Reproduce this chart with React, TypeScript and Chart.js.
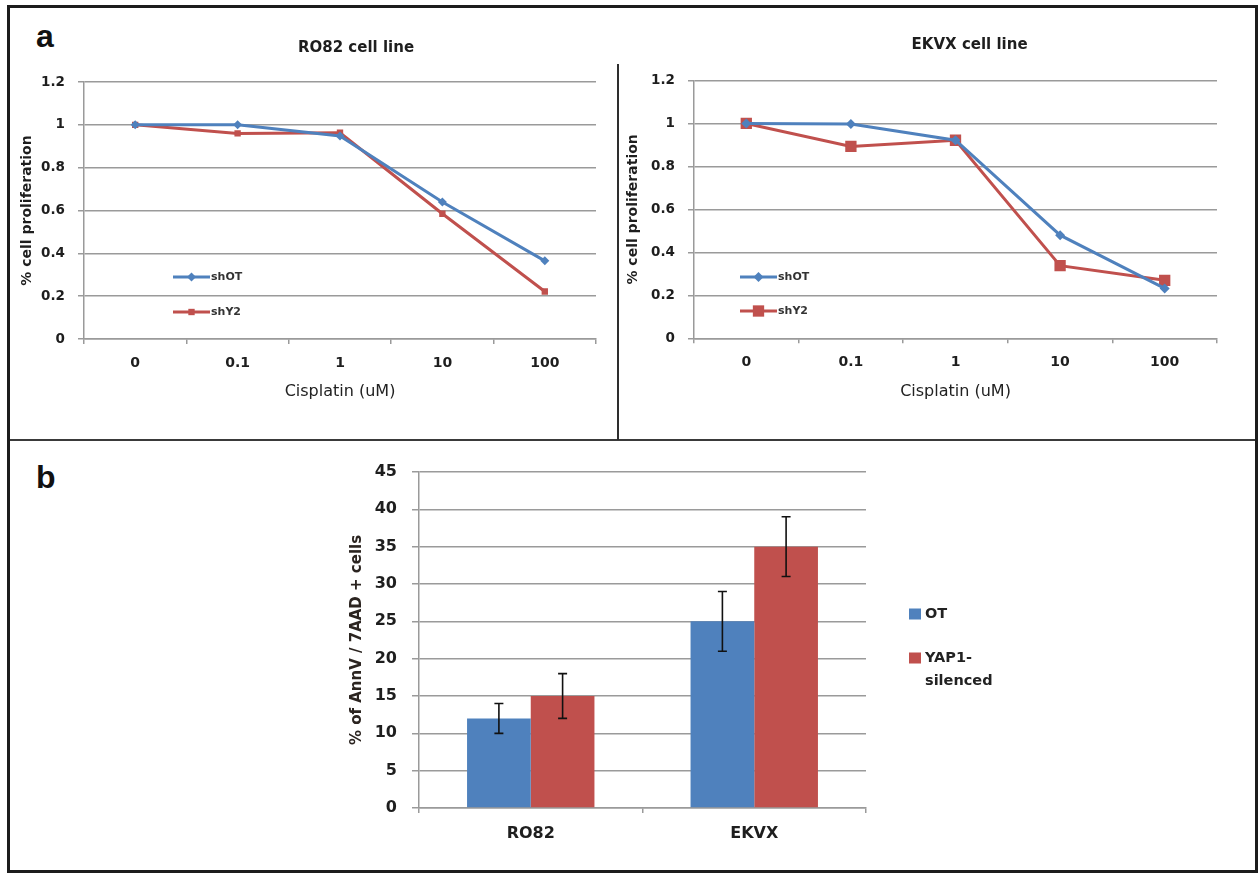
import React, { useEffect, useRef } from 'react';
import { Chart, registerables } from 'chart.js';

Chart.register(...registerables);

// ---------- data ----------
const doses = ['0', '0.1', '1', '10', '100'];
const ro82ShOT = [1.0, 1.0, 0.948, 0.64, 0.365];
const ro82ShY2 = [1.0, 0.96, 0.963, 0.585, 0.222];
const ekvxShOT = [1.0, 0.997, 0.922, 0.48, 0.232];
const ekvxShY2 = [1.0, 0.893, 0.922, 0.338, 0.27];
const proliferationMax = 1.2;
const proliferationStep = 0.2;

const cellLines = ['RO82', 'EKVX'];
const otValues = [12, 25];
const otErrors = [2, 4];
const yapValues = [15, 35];
const yapErrors = [3, 4];
const apoptosisMax = 45;
const apoptosisStep = 5;

const BLUE = '#4F81BD';
const RED = '#C0504D';
const GRID = '#9a9a9a';
const TEXT = '#1e1e1e';
const FONT = '"DejaVu Sans", Verdana, sans-serif';

// ---------- plugins ----------
const placedTitle = {
  id: 'placedTitle',
  afterDraw(chart: any, _a: any, opts: any) {
    if (!opts || !opts.text) return;
    const ctx = chart.ctx;
    ctx.save();
    ctx.fillStyle = TEXT;
    ctx.font = `bold ${opts.fontSize}px ${FONT}`;
    ctx.textAlign = 'center';
    ctx.textBaseline = 'middle';
    ctx.fillText(opts.text, opts.x, opts.y);
    ctx.restore();
  },
};

const lineLegend = {
  id: 'lineLegend',
  afterDraw(chart: any, _a: any, opts: any) {
    if (!opts || opts.x === undefined) return;
    const ctx = chart.ctx;
    chart.data.datasets.forEach((ds: any, i: number) => {
      const y = opts.y[i];
      ctx.save();
      ctx.strokeStyle = ds.borderColor;
      ctx.lineWidth = ds.borderWidth;
      ctx.beginPath();
      ctx.moveTo(opts.x, y);
      ctx.lineTo(opts.x + opts.len, y);
      ctx.stroke();
      const cx = opts.x + opts.len / 2;
      const r = ds.pointRadius;
      ctx.fillStyle = ds.pointBackgroundColor;
      ctx.beginPath();
      if (ds.pointStyle === 'rectRot') {
        ctx.moveTo(cx, y - r);
        ctx.lineTo(cx + r, y);
        ctx.lineTo(cx, y + r);
        ctx.lineTo(cx - r, y);
        ctx.closePath();
      } else {
        const s = r * Math.SQRT1_2;
        ctx.rect(cx - s, y - s, 2 * s, 2 * s);
      }
      ctx.fill();
      ctx.fillStyle = '#333';
      ctx.font = `bold ${opts.fontSize}px ${FONT}`;
      ctx.textBaseline = 'middle';
      ctx.textAlign = 'left';
      ctx.fillText(ds.label, opts.x + opts.len + 1, y);
      ctx.restore();
    });
  },
};

const errorBars = {
  id: 'errorBars',
  afterDatasetsDraw(chart: any) {
    const ctx = chart.ctx;
    const yScale = chart.scales.y;
    chart.data.datasets.forEach((ds: any, i: number) => {
      if (!ds.errors) return;
      const meta = chart.getDatasetMeta(i);
      meta.data.forEach((bar: any, j: number) => {
        const v = ds.data[j];
        const e = ds.errors[j];
        const top = yScale.getPixelForValue(v + e);
        const bot = yScale.getPixelForValue(v - e);
        const x = bar.x;
        ctx.save();
        ctx.strokeStyle = '#111';
        ctx.lineWidth = 1.6;
        ctx.beginPath();
        ctx.moveTo(x, top);
        ctx.lineTo(x, bot);
        ctx.moveTo(x - 4.5, top);
        ctx.lineTo(x + 4.5, top);
        ctx.moveTo(x - 4.5, bot);
        ctx.lineTo(x + 4.5, bot);
        ctx.stroke();
        ctx.restore();
      });
    });
  },
};

const barLegend = {
  id: 'barLegend',
  afterDraw(chart: any, _a: any, opts: any) {
    if (!opts || opts.x === undefined) return;
    const ctx = chart.ctx;
    chart.data.datasets.forEach((ds: any, i: number) => {
      const y = opts.y[i];
      ctx.save();
      ctx.fillStyle = ds.backgroundColor;
      ctx.fillRect(opts.x, y - 5.5, 12, 11);
      ctx.fillStyle = '#222';
      ctx.font = `bold ${opts.fontSize}px ${FONT}`;
      ctx.textBaseline = 'middle';
      ctx.textAlign = 'left';
      const label: string = ds.label;
      const k = label.indexOf('-');
      const lines = k >= 0 ? [label.slice(0, k + 1), label.slice(k + 1)] : [label];
      lines.forEach((ln, li) => ctx.fillText(ln, opts.x + 16, y + li * opts.lineGap));
      ctx.restore();
    });
  },
};

// ---------- configs ----------
type LineLayout = {
  padRight: number;
  padTop: number;
  titleX: number;
  titleY: number;
  yWidth: number;
  yTitlePad: number;
  xHeight: number;
  xTitlePadBottom: number;
  xTickPad: number;
  legendX: number;
  legendY: number[];
  legendLen: number;
  otRadius: number;
  y2Radius: number;
};

function lineConfig(title: string, shot: number[], shy2: number[], L: LineLayout): any {
  return {
    type: 'line',
    data: {
      labels: doses,
      datasets: [
        {
          label: 'shOT',
          data: shot,
          borderColor: BLUE,
          backgroundColor: BLUE,
          pointBackgroundColor: BLUE,
          pointBorderColor: BLUE,
          borderWidth: 3,
          pointStyle: 'rectRot',
          pointRadius: L.otRadius,
          pointBorderWidth: 0,
          tension: 0,
        },
        {
          label: 'shY2',
          data: shy2,
          borderColor: RED,
          backgroundColor: RED,
          pointBackgroundColor: RED,
          pointBorderColor: RED,
          borderWidth: 3,
          pointStyle: 'rect',
          pointRadius: L.y2Radius,
          pointBorderWidth: 0,
          tension: 0,
        },
      ],
    },
    plugins: [placedTitle, lineLegend],
    options: {
      animation: false,
      responsive: false,
      devicePixelRatio: 1,
      layout: { padding: { left: 0, right: L.padRight, top: L.padTop, bottom: 0 } },
      plugins: {
        legend: { display: false },
        tooltip: { enabled: false },
        title: { display: false },
        placedTitle: { text: title, x: L.titleX, y: L.titleY, fontSize: 15 },
        lineLegend: { x: L.legendX, y: L.legendY, len: L.legendLen, fontSize: 11 },
      },
      scales: {
        x: {
          type: 'category',
          offset: true,
          afterFit: (s: any) => { s.height = L.xHeight; },
          grid: { display: true, drawOnChartArea: false, drawTicks: true, tickLength: 5, offset: true, color: GRID, lineWidth: 1.5 },
          border: { display: true, color: GRID, width: 1.5 },
          ticks: { color: TEXT, padding: L.xTickPad, font: { family: FONT, size: 14, weight: 'bold' }, maxRotation: 0 },
          title: {
            display: true,
            text: 'Cisplatin (uM)',
            color: '#222',
            font: { family: FONT, size: 16, weight: 'normal', lineHeight: 1.2 },
            padding: { top: 0, bottom: L.xTitlePadBottom },
          },
        },
        y: {
          min: 0,
          max: proliferationMax,
          afterFit: (s: any) => { s.width = L.yWidth; },
          grid: { color: GRID, lineWidth: 1.5, tickLength: 6 },
          border: { display: true, color: GRID, width: 1.5 },
          ticks: {
            stepSize: proliferationStep,
            color: TEXT,
            padding: 13,
            font: { family: FONT, size: 13.5, weight: 'bold' },
            callback: (v: number) => String(Math.round(v * 10) / 10),
          },
          title: {
            display: true,
            text: '% cell proliferation',
            color: TEXT,
            font: { family: FONT, size: 14, weight: 'bold', lineHeight: 1.2 },
            padding: { top: L.yTitlePad, bottom: 0 },
          },
        },
      },
    },
  };
}

function barConfig(): any {
  return {
    type: 'bar',
    data: {
      labels: cellLines,
      datasets: [
        { label: 'OT', data: otValues, errors: otErrors, backgroundColor: BLUE, borderWidth: 0, categoryPercentage: 0.57, barPercentage: 1 },
        { label: 'YAP1-silenced', data: yapValues, errors: yapErrors, backgroundColor: RED, borderWidth: 0, categoryPercentage: 0.57, barPercentage: 1 },
      ],
    },
    plugins: [errorBars, barLegend],
    options: {
      animation: false,
      responsive: false,
      devicePixelRatio: 1,
      layout: { padding: { left: 0, right: 234, top: 31, bottom: 0 } },
      plugins: {
        legend: { display: false },
        tooltip: { enabled: false },
        barLegend: { x: 609, y: [173, 217], lineGap: 23, fontSize: 14.5 },
      },
      scales: {
        x: {
          type: 'category',
          offset: true,
          afterFit: (s: any) => { s.height = 61; },
          grid: { display: true, drawOnChartArea: false, drawTicks: true, tickLength: 5, offset: true, color: GRID, lineWidth: 1.5 },
          border: { display: true, color: GRID, width: 1.5 },
          ticks: { color: TEXT, padding: 11.7, font: { family: FONT, size: 16, weight: 'bold' }, maxRotation: 0 },
        },
        y: {
          min: 0,
          max: apoptosisMax,
          afterFit: (s: any) => { s.width = 119; },
          grid: { color: GRID, lineWidth: 1.5, tickLength: 7 },
          border: { display: true, color: GRID, width: 1.5 },
          ticks: { stepSize: apoptosisStep, color: TEXT, padding: 15, font: { family: FONT, size: 16, weight: 'bold' } },
          title: {
            display: true,
            text: '% of AnnV / 7AAD + cells',
            color: '#2b2420',
            font: { family: FONT, size: 15, weight: 'bold', lineHeight: 1.2 },
            padding: { top: 47.8, bottom: 0 },
          },
        },
      },
    },
  };
}

function ChartBox({ left, top, width, height, make }: { left: number; top: number; width: number; height: number; make: () => any }) {
  const ref = useRef<HTMLCanvasElement>(null);
  useEffect(() => {
    const chart = new Chart(ref.current as HTMLCanvasElement, make());
    return () => chart.destroy();
  }, []);
  return (
    <div style={{ position: 'absolute', left, top, width, height }}>
      <canvas ref={ref} width={width} height={height} style={{ width, height, display: 'block' }} />
    </div>
  );
}

export default function App() {
  const panelLetter: React.CSSProperties = {
    position: 'absolute',
    fontFamily: '"Liberation Sans", Arial, sans-serif',
    fontWeight: 'bold',
    fontSize: 32,
    lineHeight: '32px',
    color: '#111',
  };
  return (
    <div style={{ position: 'absolute', left: 0, top: 0, width: 1258, height: 873, background: '#fff', overflow: 'hidden' }}>
      <div style={{ position: 'absolute', left: 7, top: 5, width: 1251, height: 868, boxSizing: 'border-box', border: '3px solid #1c1c1c' }} />
      <div style={{ position: 'absolute', left: 10, top: 439, width: 1245, height: 2, background: '#3a3a3a' }} />
      <div style={{ position: 'absolute', left: 617, top: 64, width: 2, height: 376, background: '#2e2e2e' }} />
      <div style={{ ...panelLetter, left: 36, top: 20 }}>a</div>
      <div style={{ ...panelLetter, left: 36, top: 461 }}>b</div>
      <ChartBox
        left={10}
        top={8}
        width={606}
        height={430}
        make={() =>
          lineConfig('RO82 cell line', ro82ShOT, ro82ShY2, {
            padRight: 20,
            padTop: 74,
            titleX: 346,
            titleY: 40,
            yWidth: 74,
            yTitlePad: 8.6,
            xHeight: 99,
            xTitlePadBottom: 36.4,
            xTickPad: 10.6,
            legendX: 163,
            legendY: [269, 304],
            legendLen: 37,
            otRadius: 4.5,
            y2Radius: 4.5,
          })
        }
      />
      <ChartBox
        left={618}
        top={8}
        width={636}
        height={430}
        make={() =>
          lineConfig('EKVX cell line', ekvxShOT, ekvxShY2, {
            padRight: 37,
            padTop: 72.5,
            titleX: 351.6,
            titleY: 37,
            yWidth: 76,
            yTitlePad: 7.1,
            xHeight: 99.7,
            xTitlePadBottom: 36.7,
            xTickPad: 11,
            legendX: 122,
            legendY: [269, 303],
            legendLen: 37,
            otRadius: 5,
            y2Radius: 8,
          })
        }
      />
      <ChartBox left={300} top={441} width={800} height={428} make={barConfig} />
    </div>
  );
}
